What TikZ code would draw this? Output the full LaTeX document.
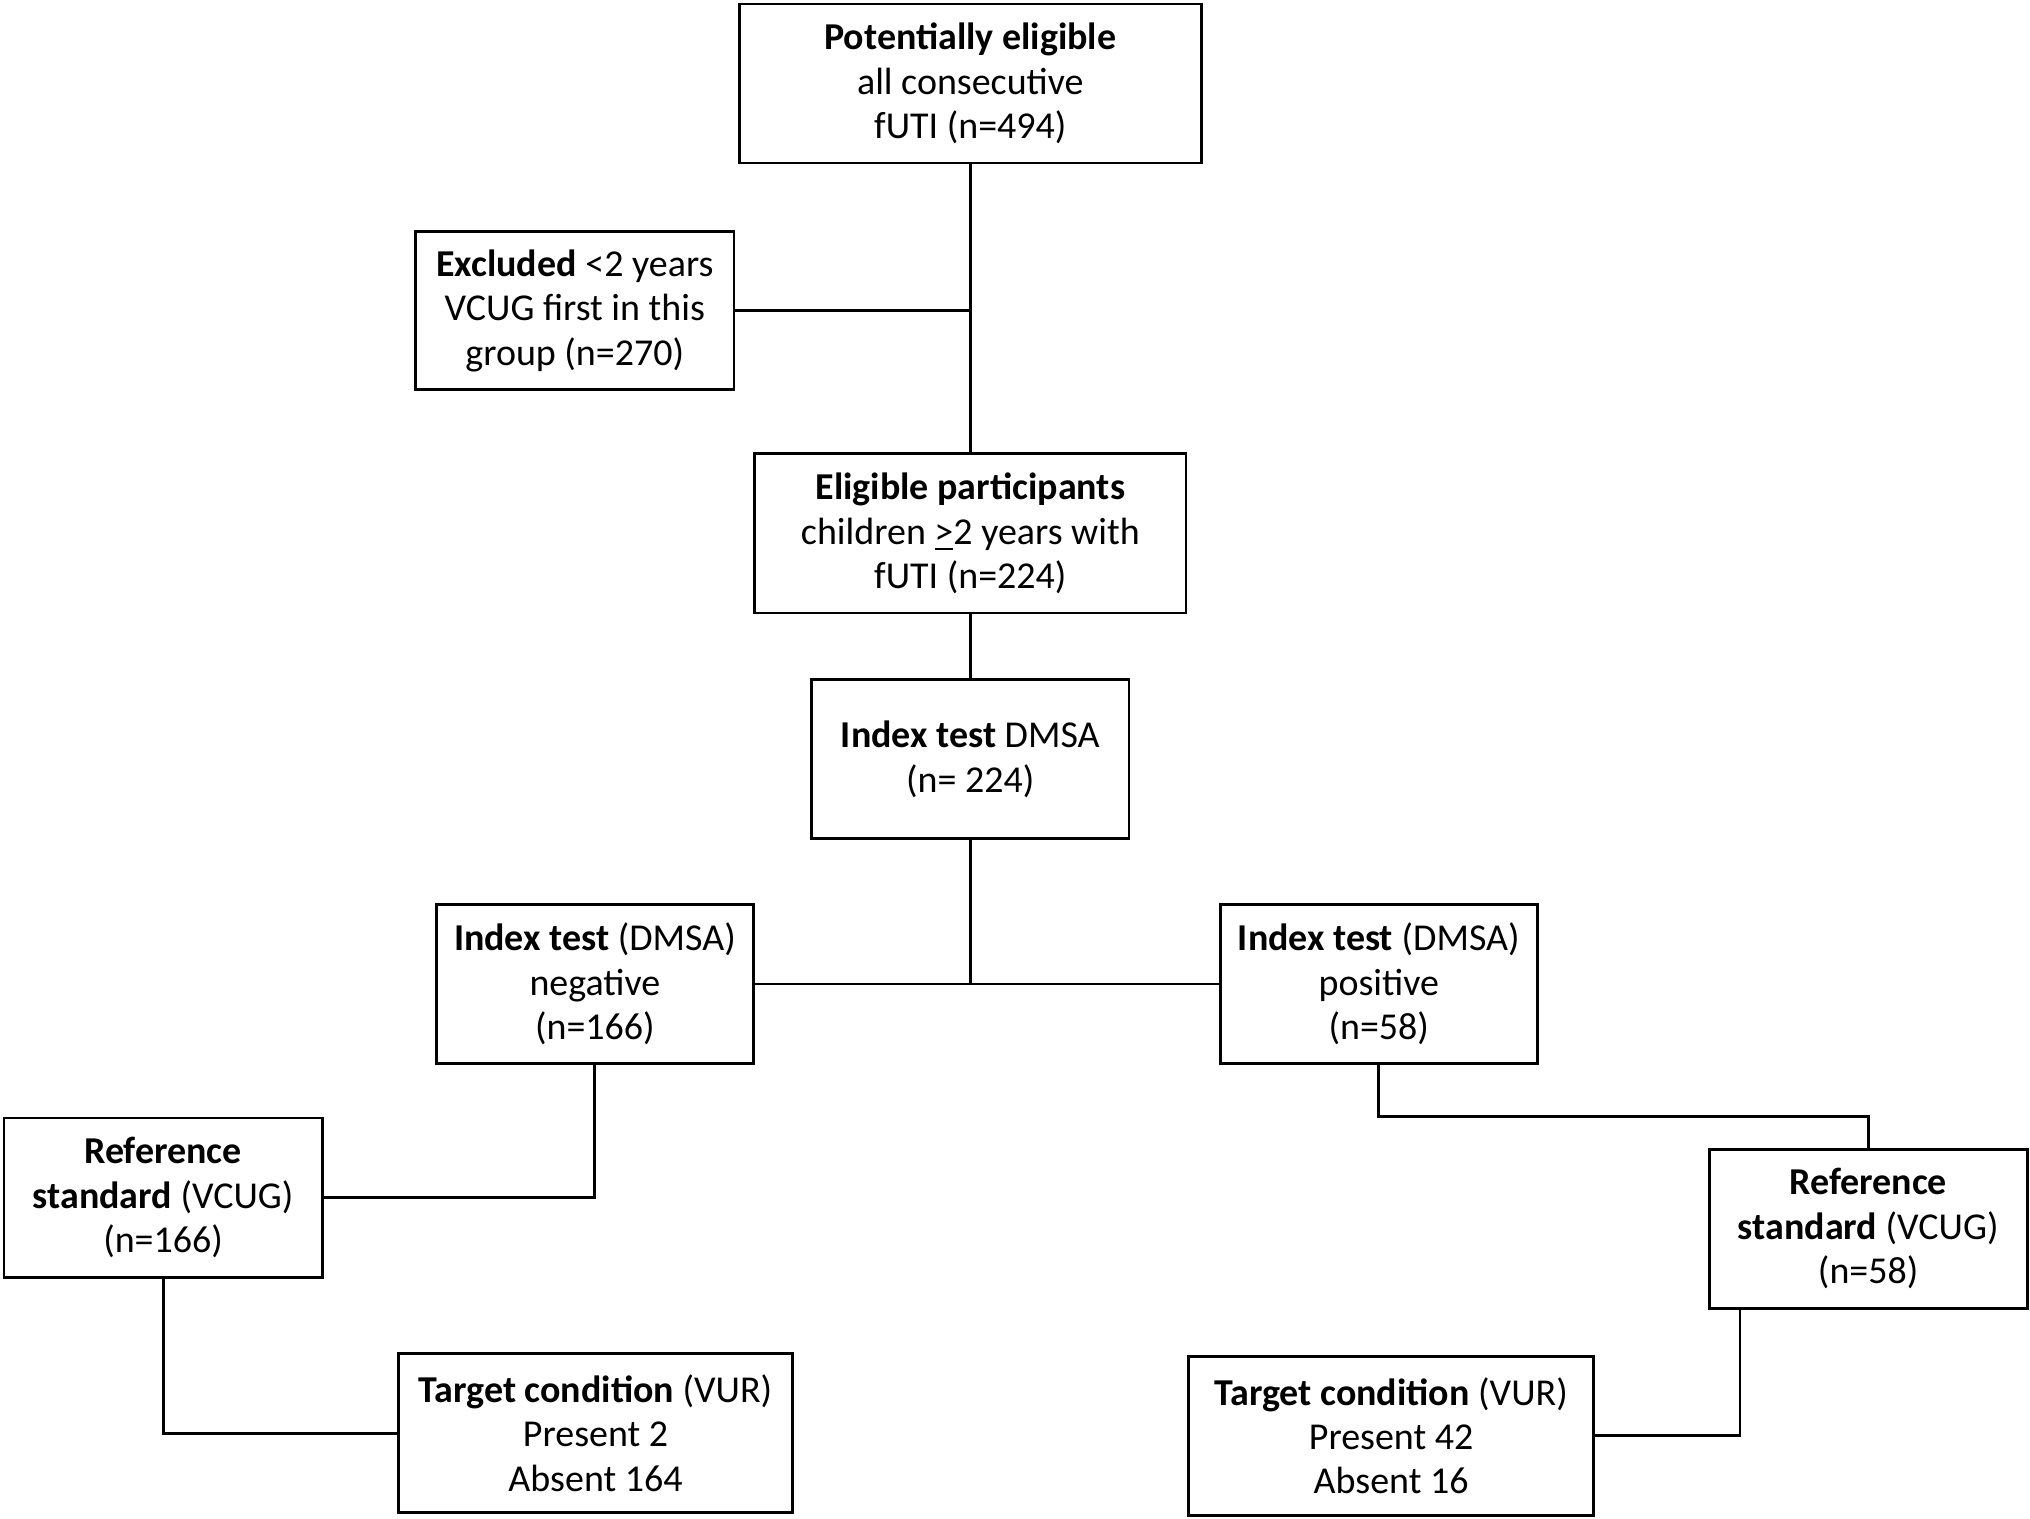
\documentclass[tikz,border=0pt]{standalone}
\usepackage{fontspec}
\setmainfont{Carlito}
\usetikzlibrary{positioning}
\tikzset{box/.style={draw,line width=0.8pt,align=center,minimum height=1.59cm,inner sep=1pt,font=\fontsize{10.8}{12.6}\selectfont}}
\begin{document}
\begin{tikzpicture}[x=0.012947cm,y=-0.012947cm,line width=0.8pt]
\useasboundingbox (0,0) rectangle (1568,1173);
\node[box,minimum width=4.62cm] (pot) at (749.5,64.5) {\textbf{Potentially eligible}\\all consecutive\\fUTI (n=494)};
\node[box,minimum width=3.18cm,minimum height=1.58cm] (excl) at (444,240) {\textbf{Excluded} <2 years\\VCUG first in this\\group (n=270)};
\node[box,minimum width=4.31cm] (elig) at (749.5,412) {\textbf{Eligible participants}\\children \underline{>}2 years with\\fUTI (n=224)};
\node[box,minimum width=3.17cm] (index) at (749.5,586.5) {\textbf{Index test} DMSA\\(n= 224)};
\node[box,minimum width=3.17cm] (neg) at (459.5,760) {\textbf{Index test} (DMSA)\\negative\\(n=166)};
\node[box,minimum width=3.17cm] (pos) at (1065,760) {\textbf{Index test} (DMSA)\\positive\\(n=58)};
\node[box,minimum width=3.18cm] (refL) at (126,925) {\textbf{Reference}\\\textbf{standard} (VCUG)\\(n=166)};
\node[box,minimum width=3.18cm] (refR) at (1443,949) {\textbf{Reference}\\\textbf{standard} (VCUG)\\(n=58)};
\node[box,minimum width=3.94cm] (targL) at (460,1107) {\textbf{Target condition} (VUR)\\Present 2\\Absent 164};
\node[box,minimum width=4.05cm] (targR) at (1074.5,1109) {\textbf{Target condition} (VUR)\\Present 42\\Absent 16};
% connectors
\draw (pot) -- (elig);
\draw (excl.east) -- (excl.east -| pot.south);
\draw (elig) -- (index);
\draw (index.south) -- (index.south |- neg.east);
\draw (neg.east) -- (pos.west);
\draw (neg.south) |- (refL.east);
\draw (pos.south) -- ++(0,40) -| (refR.north);
\draw (refL.south) |- (targL.west);
\coordinate (rr) at (1344,1011);
\draw (rr) |- (targR.east);
\end{tikzpicture}
\end{document}
